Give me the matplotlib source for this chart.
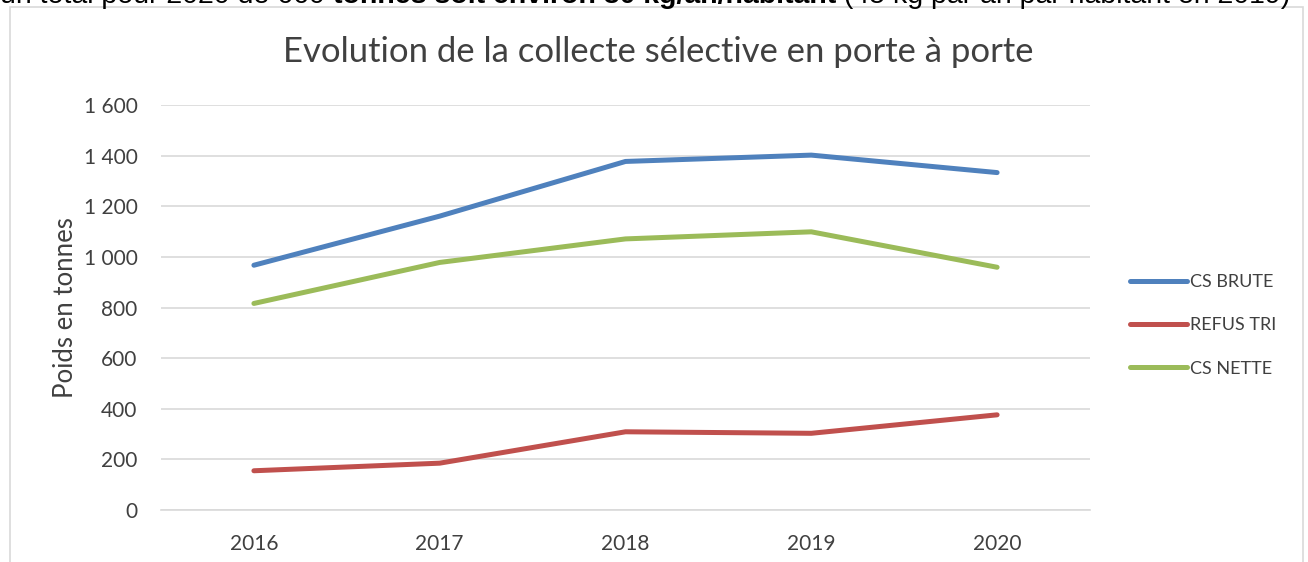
import matplotlib
matplotlib.use("Agg")
import matplotlib.pyplot as plt
from matplotlib.patches import Rectangle
from matplotlib.ticker import FuncFormatter

years = ["2016", "2017", "2018", "2019", "2020"]
cs_brute = [967, 1161, 1377, 1402, 1333]
refus_tri = [155, 185, 309, 303, 376]
cs_nette = [816, 978, 1071, 1099, 959]
series_names = ["CS BRUTE", "REFUS TRI", "CS NETTE"]
colors = ["#4F81BD", "#C0504D", "#9BBB59"]
title = "Evolution de la collecte sélective en porte à porte"
ylabel = "Poids en tonnes"
yticks = [0, 200, 400, 600, 800, 1000, 1200, 1400, 1600]
top_parts = [("un total pour 2020 de 660 ", "normal"), ("tonnes soit environ 30 kg/an/habitant", "bold"),
             (" (45 kg par an par habitant en 2019)", "normal")]

W, H = 1308, 562
fig = plt.figure(figsize=(W / 100, H / 100), dpi=100)
plt.rcParams['font.family'] = ['Lato', 'DejaVu Sans']

# chart frame
fig.patches.append(Rectangle((10 / W, -0.05), (1303 - 10) / W, 1 - 7 / H + 0.05,
                             transform=fig.transFigure, fill=False,
                             edgecolor="#D9D9D9", linewidth=1.2))

# clipped document text at top (cut off in the reference too)
fig.canvas.draw()
renderer = fig.canvas.get_renderer()
xpos = 0.0
for txt, wt in top_parts:
    t = fig.text(xpos, 1 - 3 / H, txt, fontsize=20.5, family=['Liberation Sans'], fontweight=wt,
                 va='baseline', ha='left', color='black')
    bb = t.get_window_extent(renderer=renderer)
    xpos += bb.width / W

ax = fig.add_axes([161 / W, 1 - 510 / H, (1090 - 161) / W, (510 - 105) / H])
x = list(range(len(years)))
for vals, name, c in zip([cs_brute, refus_tri, cs_nette], series_names, colors):
    ax.plot(x, vals, color=c, linewidth=3.6, solid_capstyle='round', solid_joinstyle='round', label=name)

ax.set_xlim(-0.5, len(years) - 0.5)
ax.set_ylim(0, 1600)
ax.set_yticks(yticks)
ax.yaxis.set_major_formatter(FuncFormatter(lambda v, p: f"{int(v):,}".replace(",", " ")))
ax.set_xticks(x)
ax.set_xticklabels(years)
ax.grid(axis='y', color='#D9D9D9', linewidth=1.2)
ax.set_axisbelow(True)
for s in ['top', 'right', 'left']:
    ax.spines[s].set_visible(False)
ax.spines['bottom'].set_color('#D9D9D9')
ax.spines['bottom'].set_linewidth(1.2)
ax.tick_params(axis='both', length=0, labelsize=15, labelcolor='#404040')
ax.tick_params(axis='y', pad=17)
ax.tick_params(axis='x', pad=17)
ax.set_ylabel(ylabel, fontsize=18.5, color='#404040', labelpad=4)

fig.text(658 / W, 1 - 52 / H, title, fontsize=24.9, color='#404040', ha='center', va='center')

leg = ax.legend(loc='center left', bbox_to_anchor=(1130 / W, 1 - 325.5 / H),
                bbox_transform=fig.transFigure, frameon=False, fontsize=13,
                handlelength=3.15, handletextpad=0.2, labelspacing=1.5,
                borderpad=0, borderaxespad=0)
for t in leg.get_texts():
    t.set_color('#404040')

fig.savefig("out.png", dpi=100)
